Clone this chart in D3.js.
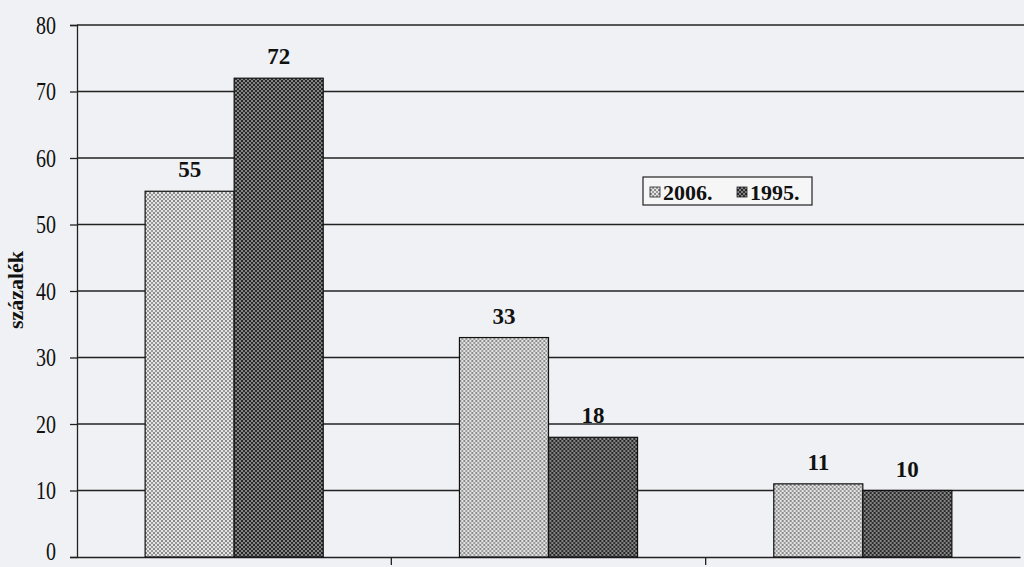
<!DOCTYPE html>
<html><head><meta charset="utf-8">
<script src="https://cdn.jsdelivr.net/npm/d3@7"></script>
<style>html,body{margin:0;padding:0;background:#f0f1f4;}svg{display:block;}</style>
</head><body>
<svg id="c" width="1024" height="567"></svg>
<script>
const categories = ["A", "B", "C"];
const seriesNames = ["2006.", "1995."];
const values2006 = [55, 33, 11];
const values1995 = [72, 18, 10];
const yTicks = [0, 10, 20, 30, 40, 50, 60, 70, 80];
const yLabel = "százalék";

const svg = d3.select("#c");
const W = 1024;
const m = {left: 77};
const defs = svg.append("defs");
const p1 = defs.append("pattern").attr("id","pLight").attr("width",4).attr("height",4).attr("patternUnits","userSpaceOnUse");
p1.append("rect").attr("width",4).attr("height",4).attr("fill","#e4e4e4");
p1.append("rect").attr("width",2).attr("height",2).attr("fill","#8a8a8a");
p1.append("rect").attr("x",2).attr("y",2).attr("width",2).attr("height",2).attr("fill","#9a9a9a");
const p2 = defs.append("pattern").attr("id","pDark").attr("width",4).attr("height",4).attr("patternUnits","userSpaceOnUse");
p2.append("rect").attr("width",4).attr("height",4).attr("fill","#858585");
p2.append("rect").attr("width",2).attr("height",2).attr("fill","#262626");
p2.append("rect").attr("x",2).attr("y",2).attr("width",2).attr("height",2).attr("fill","#2e2e2e");
const fills = ["url(#pLight)", "url(#pDark)"];

const y = d3.scaleLinear().domain([0, 80]).range([557, 25]);
const x0 = d3.scaleBand().domain(categories).range([m.left, 1020]).paddingInner(0).paddingOuter(0);
const x1 = d3.scaleBand().domain(seriesNames).range([0, x0.bandwidth()]).paddingInner(0).paddingOuter(0.765);

svg.append("g").selectAll("line").data(yTicks.filter(d=>d>0)).join("line")
  .attr("x1", m.left).attr("x2", W).attr("y1", d=>y(d)).attr("y2", d=>y(d))
  .attr("stroke","#222").attr("stroke-width",1.3);

const serif = "'Liberation Serif','Times New Roman',serif";
const yAxis = svg.append("g").attr("transform",`translate(${m.left},0)`)
  .call(d3.axisLeft(y).tickValues(yTicks).tickSize(7).tickPadding(14));
yAxis.select(".domain").attr("stroke","#222").attr("stroke-width",1.3);
yAxis.selectAll(".tick line").attr("stroke","#222").attr("stroke-width",1.3);
yAxis.selectAll("text").attr("font-family",serif).attr("font-size",25).attr("fill","#111")
  .attr("dy", d => d === 0 ? "0.08em" : "0.33em")
  .each(function(){
    const w = this.getComputedTextLength();
    d3.select(this).attr("textLength", w*0.8).attr("lengthAdjust","spacingAndGlyphs");
  });

const xAxis = svg.append("g").attr("transform",`translate(0,${y(0)})`)
  .call(d3.axisBottom(x0).tickSizeOuter(0).tickFormat(""));
xAxis.select(".domain").attr("stroke","#222").attr("stroke-width",1.3);
xAxis.selectAll(".tick").remove();
svg.append("g").selectAll("line").data(categories.slice(1)).join("line")
  .attr("x1", d=>x0(d)).attr("x2", d=>x0(d)).attr("y1", y(0)).attr("y2", y(0)+8)
  .attr("stroke","#222").attr("stroke-width",1.3);

const data = categories.map((c,i)=>({c, vals:[values2006[i], values1995[i]]}));
const g = svg.append("g").selectAll("g").data(data).join("g").attr("transform", d=>`translate(${x0(d.c)},0)`);
g.selectAll("rect").data(d=>d.vals.map((v,j)=>({s:seriesNames[j], v, j}))).join("rect")
  .attr("x", d=>x1(d.s)).attr("width", x1.bandwidth())
  .attr("y", d=>y(d.v)).attr("height", d=>y(0)-y(d.v))
  .attr("fill", d=>fills[d.j]).attr("stroke","#111").attr("stroke-width",1.2);
g.selectAll("text").data(d=>d.vals.map((v,j)=>({s:seriesNames[j], v, j}))).join("text")
  .attr("x", d=>x1(d.s)+x1.bandwidth()/2).attr("y", d=>y(d.v)-14)
  .attr("text-anchor","middle").attr("font-family",serif).attr("font-weight","bold")
  .attr("font-size",23).attr("fill","#111").text(d=>d.v);

svg.append("text").attr("transform","translate(23,290) rotate(-90)")
  .attr("text-anchor","middle").attr("font-family",serif).attr("font-weight","bold")
  .attr("font-size",22).attr("fill","#111").text(yLabel);

const lg = svg.append("g").attr("transform","translate(643,177)");
lg.append("rect").attr("width",169).attr("height",28).attr("fill","#f6f6f7").attr("stroke","#222").attr("stroke-width",1.2);
const items = lg.selectAll("g").data(seriesNames).join("g").attr("transform",(d,i)=>`translate(${7+i*87},0)`);
items.append("rect").attr("y",10).attr("width",10).attr("height",10).attr("fill",(d,i)=>fills[i]).attr("stroke","#222").attr("stroke-width",0.8);
items.append("text").attr("x",13).attr("y",23).attr("font-family",serif).attr("font-weight","bold")
  .attr("font-size",22).attr("fill","#111").text(d=>d);
</script>
</body></html>
